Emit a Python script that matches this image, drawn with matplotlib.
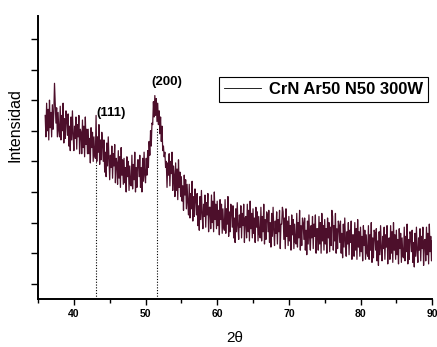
import numpy as np
import matplotlib
matplotlib.use("Agg")
import matplotlib.pyplot as plt
from matplotlib.ticker import MultipleLocator, NullFormatter
from matplotlib.lines import Line2D

plt.rcParams["font.family"] = ["Liberation Sans", "DejaVu Sans"]

# XRD pattern, 2theta from 36 to 90 in steps of 0.1
intensity = [
    6.0, 5.3, 6.4, 5.5, 6.2, 5.2, 6.5, 5.6, 6.1, 5.3,            # 36
    6.35, 5.55, 6.05, 7.05, 6.4, 5.75, 6.25, 5.3, 6.1, 5.5,      # 37
    5.3, 6.3, 5.2, 6.0, 5.5, 6.4, 5.1, 5.9, 5.25, 6.15,          # 38
    5.9, 5.35, 6.05, 5.0, 5.65, 4.85, 5.95, 5.2, 6.15, 5.4,      # 39
    4.85, 5.65, 5.25, 5.95, 4.9, 5.7, 5.3, 6.0, 4.75, 5.55,      # 40
    5.45, 4.75, 5.85, 4.95, 5.65, 4.65, 5.95, 5.05, 5.55, 4.75,  # 41
    5.55, 4.75, 5.25, 4.45, 5.6, 4.95, 5.45, 4.5, 5.3, 4.7,      # 42
    4.6, 6.0, 4.5, 5.3, 4.8, 5.7, 4.4, 5.2, 4.55, 5.45,          # 43
    5.05, 4.5, 5.2, 4.15, 4.8, 4.0, 5.1, 4.35, 5.3, 4.55,        # 44
    3.9, 4.7, 4.3, 5.0, 3.95, 4.75, 4.35, 5.05, 3.8, 4.6,        # 45
    4.45, 3.75, 4.85, 3.95, 4.65, 3.65, 4.95, 4.05, 4.55, 3.75,  # 46
    4.6, 3.8, 4.3, 3.5, 4.65, 4.0, 4.5, 3.55, 4.35, 3.75,        # 47
    3.7, 4.7, 3.6, 4.4, 3.9, 4.8, 3.5, 4.3, 3.65, 4.55,          # 48
    4.55, 4.0, 4.7, 3.65, 4.3, 3.5, 4.6, 3.85, 4.8, 4.05,        # 49
    3.8, 4.6, 4.05, 4.85, 4.3, 5.15, 4.7, 5.5, 5.0, 5.75,        # 50
    5.7, 6.45, 5.95, 6.65, 6.0, 6.55, 5.8, 6.4, 5.7, 6.15,       # 51
    5.4, 5.95, 5.15, 5.65, 4.85, 5.0, 4.65, 4.8, 4.3, 4.5,       # 52
    3.65, 4.45, 4.05, 4.75, 3.7, 4.5, 4.1, 4.8, 3.55, 4.35,      # 53
    4.05, 3.35, 4.45, 3.55, 4.25, 3.25, 4.55, 3.65, 4.15, 3.35,  # 54
    4.0, 3.2, 3.7, 2.9, 4.05, 3.4, 3.9, 2.95, 3.75, 3.15,        # 55
    2.75, 3.75, 2.65, 3.45, 2.95, 3.85, 2.55, 3.35, 2.7, 3.6,    # 56
    3.3, 2.75, 3.45, 2.4, 3.05, 2.25, 3.35, 2.6, 3.55, 2.8,      # 57
    2.3, 3.1, 2.7, 3.4, 2.35, 3.15, 2.75, 3.45, 2.2, 3.0,        # 58
    3.0, 2.3, 3.4, 2.5, 3.2, 2.2, 3.5, 2.6, 3.1, 2.3,            # 59
    3.2, 2.4, 2.9, 2.1, 3.25, 2.6, 3.1, 2.15, 2.95, 2.35,        # 60
    2.25, 3.25, 2.15, 2.95, 2.45, 3.35, 2.05, 2.85, 2.2, 3.1,    # 61
    2.9, 2.35, 3.05, 2.0, 2.65, 1.85, 2.95, 2.2, 3.15, 2.4,      # 62
    1.95, 2.75, 2.35, 3.05, 2.0, 2.8, 2.4, 3.1, 1.85, 2.65,      # 63
    2.7, 2.0, 3.1, 2.2, 2.9, 1.9, 3.2, 2.3, 2.8, 2.0,            # 64
    2.95, 2.15, 2.65, 1.85, 3.0, 2.35, 2.85, 1.9, 2.7, 2.1,      # 65
    2.0, 3.0, 1.9, 2.7, 2.2, 3.1, 1.8, 2.6, 1.95, 2.85,          # 66
    2.75, 2.2, 2.9, 1.85, 2.5, 1.7, 2.8, 2.05, 3.0, 2.25,        # 67
    1.75, 2.55, 2.15, 2.85, 1.8, 2.6, 2.2, 2.9, 1.65, 2.45,      # 68
    2.45, 3.0, 2.85, 1.95, 2.65, 1.65, 2.95, 2.05, 2.55, 1.75,   # 69
    2.7, 1.9, 2.4, 1.6, 2.75, 2.1, 2.6, 1.65, 2.45, 1.85,        # 70
    1.8, 2.8, 1.7, 2.5, 2.0, 2.9, 1.6, 2.4, 1.75, 2.65,          # 71
    2.5, 1.95, 2.65, 1.6, 2.25, 1.45, 2.55, 1.8, 2.75, 2.0,      # 72
    1.6, 2.4, 2.0, 2.7, 1.65, 2.45, 2.05, 2.75, 1.5, 2.3,        # 73
    2.3, 1.6, 2.7, 1.8, 2.5, 1.5, 2.8, 1.9, 2.4, 1.6,            # 74
    2.6, 1.8, 2.3, 1.5, 2.65, 2.0, 2.5, 1.55, 2.35, 1.75,        # 75
    2.9, 2.7, 1.6, 2.4, 1.9, 2.8, 1.5, 2.3, 1.65, 2.55,          # 76
    2.4, 1.85, 2.55, 1.5, 2.15, 1.35, 2.45, 1.7, 2.65, 1.9,      # 77
    1.4, 2.2, 1.8, 2.5, 1.45, 2.25, 1.85, 2.55, 1.3, 2.1,        # 78
    2.1, 1.4, 2.5, 1.6, 2.3, 1.3, 2.6, 1.7, 2.2, 1.4,            # 79
    2.35, 1.55, 2.05, 1.25, 2.4, 1.75, 2.25, 1.3, 2.1, 1.5,      # 80
    1.4, 2.4, 1.3, 2.1, 1.6, 2.5, 1.2, 2.0, 1.35, 2.25,          # 81
    2.15, 1.6, 2.3, 1.25, 1.9, 1.1, 2.2, 1.45, 2.4, 1.65,        # 82
    1.25, 2.05, 1.65, 2.35, 1.3, 2.1, 1.7, 2.4, 1.15, 1.95,      # 83
    2.0, 1.3, 2.4, 1.5, 2.2, 1.2, 2.5, 1.6, 2.1, 1.3,            # 84
    2.25, 1.45, 1.95, 1.15, 2.3, 1.65, 2.15, 1.2, 2.0, 1.4,      # 85
    1.35, 2.35, 1.25, 2.05, 1.55, 2.45, 1.15, 1.95, 1.3, 2.2,    # 86
    2.1, 1.55, 2.25, 1.2, 1.85, 1.05, 2.15, 1.4, 2.35, 1.6,      # 87
    1.2, 2.0, 1.6, 2.3, 1.25, 2.05, 1.65, 2.35, 1.1, 1.9,        # 88
    1.95, 1.25, 2.35, 1.45, 2.15, 1.15, 2.45, 1.55, 2.05, 1.25,  # 89
    1.9,                                                         # 90
]
two_theta = np.linspace(36, 90, len(intensity))

peak_positions = [43.1, 51.6]
peak_line_tops = [4.6, 5.6]
peak_labels = ["(111)", "(200)"]
sample_label = "CrN Ar50 N50 300W"

fig = plt.figure(figsize=(4.37, 3.47), dpi=100)
ax = fig.add_axes([0.087, 0.138, 0.902, 0.816])

ax.vlines(peak_positions, 0, peak_line_tops, colors="black", linestyles=(0, (1, 1.5)), linewidth=0.8, zorder=1)
ax.plot(two_theta, intensity, color="#4d0f2b", linewidth=0.9, zorder=2)

ax.text(45.2, 6.08, peak_labels[0], fontsize=9.5, fontweight="bold", ha="center", va="center")
ax.text(53.0, 7.09, peak_labels[1], fontsize=9.5, fontweight="bold", ha="center", va="center")

handle = Line2D([], [], color="black", linewidth=0.6)
leg = ax.legend([handle], [sample_label], loc="upper right", bbox_to_anchor=(0.99, 0.784),
                borderaxespad=0, fancybox=False, edgecolor="black", framealpha=1,
                prop={"size": 12, "weight": "bold"}, handlelength=2.2, handletextpad=0.5,
                borderpad=0.3)
leg.get_frame().set_linewidth(0.8)

ax.set_xlim(35, 90)
ax.set_ylim(0, 9.25)
ax.xaxis.set_major_locator(MultipleLocator(10))
ax.xaxis.set_minor_locator(MultipleLocator(5))
ax.set_yticks(np.arange(0.5, 9, 1))
ax.yaxis.set_major_formatter(NullFormatter())
ax.tick_params(axis="x", which="major", length=4, width=1, labelsize=7.5, pad=3)
ax.tick_params(axis="x", which="minor", length=3, width=1)
ax.tick_params(axis="y", length=5, width=1)
for lab in ax.get_xticklabels():
    lab.set_fontweight("bold")

for side in ["top", "right"]:
    ax.spines[side].set_visible(False)
for side in ["left", "bottom"]:
    ax.spines[side].set_linewidth(1.4)

ax.set_xlabel("2θ", fontsize=11, labelpad=9)
ax.set_ylabel("Intensidad", fontsize=11.5)
ax.yaxis.set_label_coords(-0.04, 0.615)

fig.savefig("out.png", dpi=100)
